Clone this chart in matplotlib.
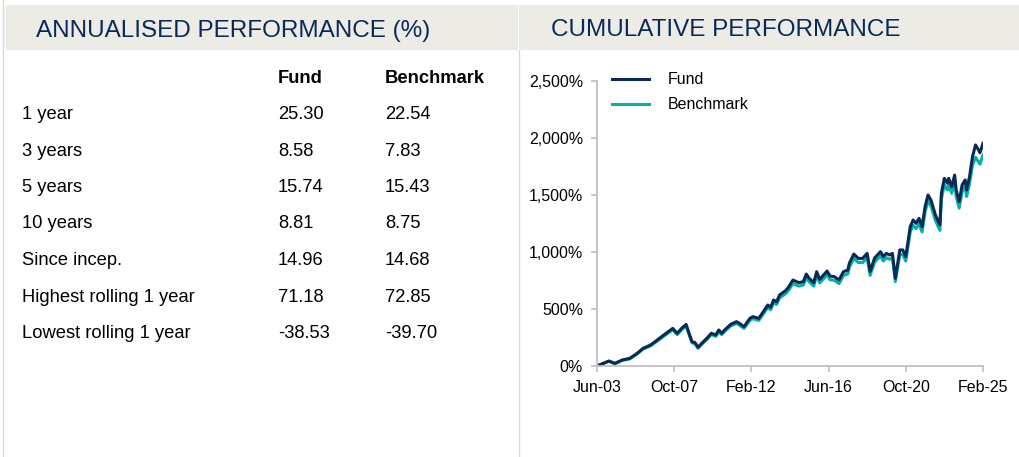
import numpy as np
import pandas as pd
import matplotlib
matplotlib.use('Agg')
import matplotlib.pyplot as plt
import matplotlib.dates as mdates
from matplotlib.patches import Rectangle
from matplotlib.lines import Line2D
from matplotlib.ticker import FuncFormatter

plt.rcParams['font.family'] = ['Liberation Sans', 'DejaVu Sans']

# Таблица годовой доходности
row_labels = ['1 year', '3 years', '5 years', '10 years', 'Since incep.',
              'Highest rolling 1 year', 'Lowest rolling 1 year']
fund_annual = ['25.30', '8.58', '15.74', '8.81', '14.96', '71.18', '-38.53']
bench_annual = ['22.54', '7.83', '15.43', '8.75', '14.68', '72.85', '-39.70']

# Накопленная доходность (%)
dates = ['2003-06', '2004-02', '2004-06', '2004-11', '2005-04', '2005-09', '2006-01',
         '2006-06', '2006-10', '2007-03', '2007-06', '2007-09', '2007-12', '2008-03',
         '2008-06', '2008-08', '2008-10', '2008-12', '2009-02', '2009-05', '2009-08',
         '2009-11', '2010-02', '2010-04', '2010-06', '2010-08', '2010-12', '2011-04',
         '2011-06', '2011-09', '2012-01', '2012-03', '2012-07', '2012-10', '2013-01',
         '2013-03', '2013-05', '2013-07', '2013-09', '2014-01', '2014-03', '2014-06',
         '2014-10', '2015-01', '2015-03', '2015-05', '2015-08', '2015-10', '2015-12',
         '2016-02', '2016-05', '2016-07', '2016-10', '2017-01', '2017-04', '2017-07',
         '2017-08', '2017-11', '2018-02', '2018-05', '2018-08', '2018-10', '2019-01',
         '2019-05', '2019-07', '2019-09', '2019-11', '2020-01', '2020-03', '2020-06',
         '2020-08', '2020-10', '2021-01', '2021-03', '2021-05', '2021-07', '2021-09',
         '2021-11', '2022-01', '2022-03', '2022-06', '2022-07', '2022-09', '2022-10',
         '2022-12', '2023-02', '2023-03', '2023-05', '2023-07', '2023-08', '2023-10',
         '2023-12', '2024-02', '2024-03', '2024-05', '2024-07', '2024-09', '2024-11',
         '2024-12', '2025-02']
fund = [0, 44, 23, 53, 67, 111, 155, 184, 222, 272,
        301, 330, 287, 330, 365, 287, 213, 205, 164, 205,
        243, 287, 272, 316, 287, 316, 365, 389, 374, 345,
        418, 433, 418, 476, 535, 515, 579, 564, 623, 661,
        690, 754, 731, 740, 807, 769, 731, 827, 760, 789,
        833, 789, 783, 754, 827, 842, 901, 982, 944, 944,
        988, 830, 947, 1003, 959, 988, 974, 988, 769, 1018,
        1018, 959, 1222, 1281, 1252, 1295, 1222, 1397, 1500, 1456,
        1325, 1295, 1237, 1515, 1646, 1603, 1646, 1573, 1675, 1544,
        1441, 1588, 1632, 1544, 1661, 1836, 1939, 1895, 1871, 1953]
benchmark = [0, 41, 20, 49, 62, 105, 148, 176, 213, 261,
             289, 317, 275, 317, 351, 275, 203, 195, 155, 195,
             232, 275, 260, 303, 275, 303, 350, 373, 358, 330,
             400, 415, 400, 456, 513, 493, 555, 540, 597, 634,
             662, 724, 701, 710, 775, 738, 701, 794, 729, 757,
             800, 757, 751, 723, 794, 808, 866, 945, 907, 907,
             950, 795, 910, 965, 921, 950, 936, 950, 740, 978,
             978, 921, 1176, 1234, 1205, 1248, 1176, 1350, 1450, 1405,
             1278, 1248, 1190, 1462, 1588, 1545, 1588, 1515, 1615, 1487,
             1385, 1530, 1572, 1487, 1600, 1765, 1830, 1790, 1770, 1850]
tick_dates = ['2003-06', '2007-10', '2012-02', '2016-06', '2020-10', '2025-02']

W, H = 1019, 457
navy = '#0A2A55'
teal = '#00B2A9'
band = '#ECEBE6'
line_grey = '#D9D9D9'

fig = plt.figure(figsize=(W / 100, H / 100), dpi=100)


def fx(x):
    return x / W


def fy(y):
    return 1 - y / H


# Серые плашки заголовков и разделители
fig.add_artist(Rectangle((fx(6), fy(50)), fx(512), 45 / H, transform=fig.transFigure,
                         facecolor=band, edgecolor='none'))
fig.add_artist(Rectangle((fx(519), fy(50)), fx(500), 45 / H, transform=fig.transFigure,
                         facecolor=band, edgecolor='none'))
fig.add_artist(Line2D([fx(3), fx(3)], [fy(0), fy(457)], transform=fig.transFigure,
                      color=line_grey, lw=1))
fig.add_artist(Line2D([fx(518.5), fx(518.5)], [fy(50), fy(457)], transform=fig.transFigure,
                      color=line_grey, lw=1))

fig.text(fx(36), fy(36.5), 'ANNUALISED PERFORMANCE (%)', color=navy, fontsize=17.5,
         va='baseline', ha='left')
fig.text(fx(551), fy(36.5), 'CUMULATIVE PERFORMANCE', color=navy, fontsize=17.5,
         va='baseline', ha='left')

# Таблица
fs = 13.2
fig.text(fx(278), fy(83.3), 'Fund', fontsize=fs, fontweight='bold', va='baseline')
fig.text(fx(385), fy(83.3), 'Benchmark', fontsize=fs, fontweight='bold', va='baseline')
row_y = [119.3, 156, 191.7, 228.3, 265, 301.7, 338.3]
for y, lab, f, b in zip(row_y, row_labels, fund_annual, bench_annual):
    fig.text(fx(22), fy(y), lab, fontsize=fs, va='baseline')
    fig.text(fx(278), fy(y), f, fontsize=fs, va='baseline')
    fig.text(fx(385), fy(y), b, fontsize=fs, va='baseline')

# График накопленной доходности
ax = fig.add_axes([fx(597), fy(366), (983 - 597) / W, (366 - 81) / H])
x = pd.to_datetime(dates)
ax.plot(x, benchmark, color=teal, lw=2.2, label='Benchmark', solid_joinstyle='round')
ax.plot(x, fund, color=navy, lw=2.2, label='Fund', solid_joinstyle='round')

ax.set_xlim(x[0], x[-1])
ax.set_ylim(0, 2500)
ax.set_yticks(np.arange(0, 2501, 500))
ax.yaxis.set_major_formatter(FuncFormatter(lambda v, p: f'{v:,.0f}%'))
ax.set_xticks(pd.to_datetime(tick_dates))
ax.xaxis.set_major_formatter(mdates.DateFormatter('%b-%y'))

for s in ['top', 'right']:
    ax.spines[s].set_visible(False)
for s in ['left', 'bottom']:
    ax.spines[s].set_color('#BFBFBF')
    ax.spines[s].set_linewidth(1.3)
ax.tick_params(axis='both', colors='#BFBFBF', labelcolor='black', labelsize=11.5,
               length=4, width=1.2, direction='out')
ax.tick_params(axis='y', pad=6)
ax.tick_params(axis='x', pad=6)

handles, labels = ax.get_legend_handles_labels()
ax.legend(handles[::-1], labels[::-1], loc='upper left', bbox_to_anchor=(0.039, 1.03),
          frameon=False, fontsize=11.5, handlelength=2.3, handletextpad=1.2,
          labelspacing=0.62, borderpad=0, borderaxespad=0)

plt.savefig('out.png', dpi=100)
